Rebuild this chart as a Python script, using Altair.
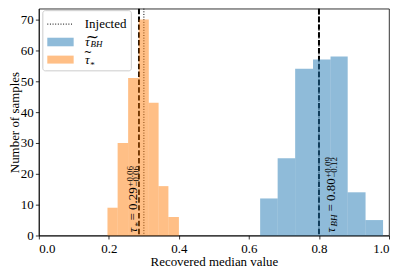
import altair as alt
import pandas as pd

SERIF = "'Liberation Serif', 'Times New Roman', Times, 'DejaVu Serif', serif"

# ---- data ----
bh_edges = [0.632, 0.682, 0.732, 0.783, 0.833, 0.882, 0.933, 0.983]
bh_counts = [12, 25, 54, 57, 58, 14, 5]
star_edges = [0.196, 0.225, 0.255, 0.285, 0.314, 0.342, 0.370, 0.400]
star_counts = [9, 30, 51, 70, 43, 16, 6]

median_lines = [0.286, 0.80]      # dashed
injected_lines = [0.30, 0.80]     # dotted

x_ticks = [0.0, 0.2, 0.4, 0.6, 0.8, 1.0]
y_ticks = [0, 10, 20, 30, 40, 50, 60, 70]

star_label = {"x": 0.269, "y": 1.0, "sym": "τ", "sub": "*", "val": "= 0.29", "up": "+0.06", "lo": "−0.06"}
bh_label = {"x": 0.835, "y": 1.0, "sym": "τ", "sub": "BH", "val": "= 0.80", "up": "+0.09", "lo": "−0.12"}

W, H = 352, 228

xs = alt.Scale(domain=[0, 1], nice=False, zero=False)
ys = alt.Scale(domain=[0, 73.5], nice=False)
xa = alt.Axis(values=x_ticks, format=".1f", title="Recovered median value",
              labelPadding=3.5, titleBaseline="alphabetic", titleY=30.5)
ya = alt.Axis(values=y_ticks, format="d", title="Number of samples",
              labelPadding=2.2, titleAngle=270, titleBaseline="alphabetic",
              titleX=-20.8, titleY=H / 2, titleAlign="center")

def X(f="x"):
    return alt.X(f + ":Q", scale=xs, axis=xa)

def Y(f="y"):
    return alt.Y(f + ":Q", scale=ys, axis=ya)

rows = []
for name, edges, counts in [("bh", bh_edges, bh_counts), ("star", star_edges, star_counts)]:
    for i, c in enumerate(counts):
        rows.append({"s": name, "x0": edges[i], "x1": edges[i + 1], "c": c, "base": 0})
bars_df = pd.DataFrame(rows)

dashed = alt.Chart(pd.DataFrame({"x": median_lines})).mark_rule(
    color="black", strokeWidth=2.0, strokeDash=[5.5, 2.4]).encode(x=X())
dotted = alt.Chart(pd.DataFrame({"x": injected_lines})).mark_rule(
    color="black", strokeWidth=1.0, strokeDash=[1, 1.65]).encode(x=X())

bars = alt.Chart(bars_df).mark_rect(opacity=0.5).encode(
    x=X("x0"), x2="x1", y=Y("c"), y2="base",
    color=alt.Color("s:N", scale=alt.Scale(domain=["bh", "star"], range=["#1f77b4", "#ff7f0e"]), legend=None),
)

def piece(x, y, s, size, dx, dy, italic=False):
    df = pd.DataFrame({"x": [x], "y": [y], "t": [s]})
    kw = dict(font=SERIF, fontSize=size, angle=270, align="left", baseline="middle",
              dx=dx, dy=dy, color="black")
    if italic:
        kw["fontStyle"] = "italic"
    return alt.Chart(df).mark_text(**kw).encode(x=X(), y=Y(), text="t:N")

ann = []
L = star_label
ann += [piece(L["x"], L["y"], L["sym"], 13, 0, 0, True),
        piece(L["x"], L["y"], L["sub"], 9, 6, 5.5),
        piece(L["x"], L["y"], L["val"], 13, 12, 0),
        piece(L["x"], L["y"], L["up"], 9, 46, -3.4),
        piece(L["x"], L["y"], L["lo"], 9, 46, 3.2)]
L = bh_label
ann += [piece(L["x"], L["y"], L["sym"], 13, 0, 0, True),
        piece(L["x"], L["y"], L["sub"], 9, 6, 3, True),
        piece(L["x"], L["y"], L["val"], 13, 21, 0),
        piece(L["x"], L["y"], L["up"], 9, 55, -3.4),
        piece(L["x"], L["y"], L["lo"], 9, 55, 3.2)]

# ---- legend (pixel space of the plot area) ----
one = pd.DataFrame({"a": [0]})
leg = [
    alt.Chart(one).mark_rect(fill="white", fillOpacity=0.8, stroke="#cccccc", strokeWidth=1, cornerRadius=2.5)
    .encode(x=alt.value(4), x2=alt.value(93), y=alt.value(2), y2=alt.value(62.5)),
    alt.Chart(one).mark_rule(color="black", strokeWidth=1.0, strokeDash=[1, 1.65])
    .encode(x=alt.value(8.5), x2=alt.value(35), y=alt.value(15.5)),
    alt.Chart(one).mark_rect(fill="#1f77b4", opacity=0.5)
    .encode(x=alt.value(8.5), x2=alt.value(35), y=alt.value(29.2), y2=alt.value(37.8)),
    alt.Chart(one).mark_rect(fill="#ff7f0e", opacity=0.5)
    .encode(x=alt.value(8.5), x2=alt.value(35), y=alt.value(47.2), y2=alt.value(55.2)),
]

def ltext(x, y, s, size, italic=False, font=SERIF, align="left"):
    kw = dict(font=font, fontSize=size, align=align, baseline="middle", color="black")
    if italic:
        kw["fontStyle"] = "italic"
    return alt.Chart(one).mark_text(**kw).encode(x=alt.value(x), y=alt.value(y), text=alt.value(s))

leg += [
    ltext(46.2, 15.5, "Injected", 13),
    ltext(46.5, 33.5, "τ", 13, True),
    ltext(52.0, 36.0, "BH", 9, True),
    ltext(53.8, 28.5, "~", 16, font="DejaVu Sans", align="center"),
    ltext(46.5, 51.5, "τ", 13, True),
    ltext(51.8, 56.5, "*", 9),
    ltext(49.3, 44.5, "~", 10, font="DejaVu Sans", align="center"),
]

chart = alt.layer(dashed, dotted, bars, *ann, *leg).properties(
    width=W, height=H,
    padding={"left": 31, "top": 0, "right": 2, "bottom": 33},
    autosize=alt.AutoSizeParams(type="none"),
).configure_view(stroke="black", strokeWidth=0.8).configure_axis(
    grid=False, domainColor="black", tickColor="black", labelColor="black", titleColor="black",
    labelFont=SERIF, titleFont=SERIF, labelFontSize=13, titleFontSize=13, titleFontWeight="normal",
    tickSize=3.5, domainWidth=0.8, tickWidth=0.8,
)

chart.save("out.html", embed_options={"renderer": "svg", "actions": False})
